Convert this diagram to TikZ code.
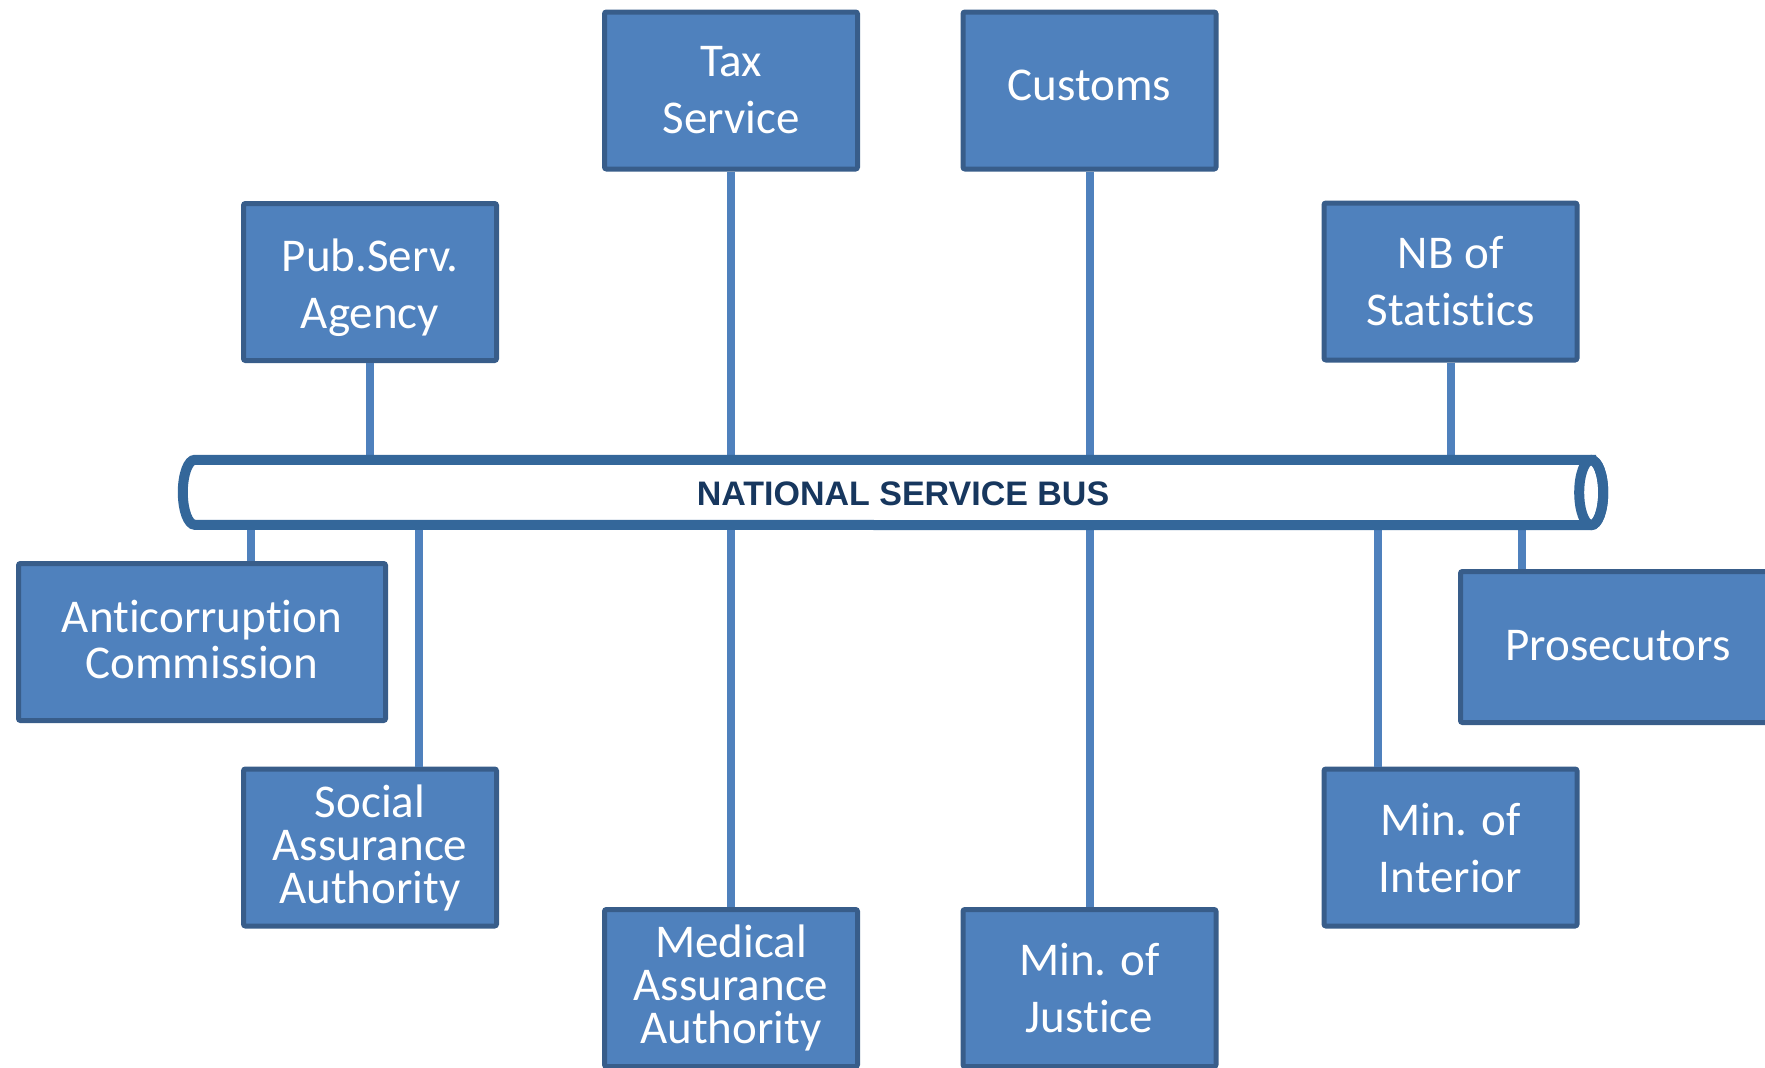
\documentclass[tikz,border=0pt]{standalone}
\usepackage{fontspec}
\newfontfamily\boxfont[Ligatures={NoCommon}]{Carlito}
\newfontfamily\busfont{Liberation Sans}
\definecolor{boxfill}{HTML}{4F81BD}
\definecolor{boxline}{HTML}{385D8A}
\definecolor{busline}{HTML}{34679A}
\definecolor{bustext}{HTML}{17375E}
\begin{document}
\begin{tikzpicture}[x=1pt,y=-1pt,
  agency/.style={draw=boxline, fill=boxfill, line width=5pt, rounded corners=2pt,
    text=white, align=center, inner sep=0pt,
    minimum width=253pt, minimum height=157pt,
    font=\boxfont\fontsize{47}{57}\selectfont},
  tight/.style={font=\boxfont\fontsize{47}{43}\selectfont},
  mid/.style={font=\boxfont\fontsize{47}{46}\selectfont},
  link/.style={draw=boxfill, line width=8pt},
  busbody/.style={draw=busline, line width=10pt, fill=white},
]
\useasboundingbox (0,0) rectangle (1765,1068);

% agencies above the bus
\node[agency] (tax) at (731,90.5) {Tax\\Service};
\node[agency] (customs) at (1089.5,90.5) {\raisebox{11pt}{Customs}};
\node[agency] (pub) at (370,282) {\rule{0pt}{44pt}Pub.Serv.\\Agency};
\node[agency] (nb) at (1450.5,281.5) {NB of\\Statistics};

% agencies below the bus
\node[agency, mid, minimum width=367pt] (anti) at (202,642) {Anticorruption\\Commission\rule[-6pt]{0pt}{1pt}};
\node[agency, tight] (social) at (370,847.5) {Social\\Assurance\\Authority};
\node[agency, tight] (medical) at (731,988) {Medical\\Assurance\\Authority};
\node[agency] (justice) at (1089.5,988) {Min. of\\Justice};
\node[agency] (interior) at (1450.5,847.5) {Min. of\\Interior};
\node[agency, minimum width=315pt, minimum height=151pt] (pros) at (1618,647) {\raisebox{4pt}{Prosecutors}};

% bus frame (node spans the body between the two ends)
\node[minimum width=1396pt, minimum height=65pt, inner sep=0pt] (bus) at (893,492.5) {};

% attachment points on the lower side of the bus
\coordinate (p1) at (251,525);
\coordinate (p2) at (419,525);
\coordinate (p3) at (1378,525);
\coordinate (p4) at (1522,525);

% connectors
\draw[link] (pub.south) -- (pub.south |- bus.north);
\draw[link] (tax.south) -- (tax.south |- bus.north);
\draw[link] (customs.south) -- (customs.south |- bus.north);
\draw[link] (nb.south) -- (nb.south |- bus.north);
\draw[link] (p1) -- (p1 |- anti.north);
\draw[link] (p2) -- (p2 |- social.north);
\draw[link] (medical.north) -- (medical.north |- bus.south);
\draw[link] (justice.north) -- (justice.north |- bus.south);
\draw[link] (p3) -- (p3 |- interior.north);
\draw[link] (p4) -- (p4 |- pros.north);

% the bus cylinder
\draw[busbody] (bus.north east) -- (bus.north west)
  arc[start angle=270, end angle=90, x radius=12, y radius=32.5]
  -- (bus.south east)
  arc[start angle=90, end angle=-90, x radius=12, y radius=32.5] -- cycle;
\draw[draw=busline, line width=10pt] (bus.east) ellipse[x radius=12, y radius=32.5];

\node[text=bustext, font=\busfont\bfseries\fontsize{34}{40}\selectfont, inner sep=0pt]
  (buslabel) at (903,494) {NATIONAL SERVICE BUS};
\end{tikzpicture}
\end{document}
